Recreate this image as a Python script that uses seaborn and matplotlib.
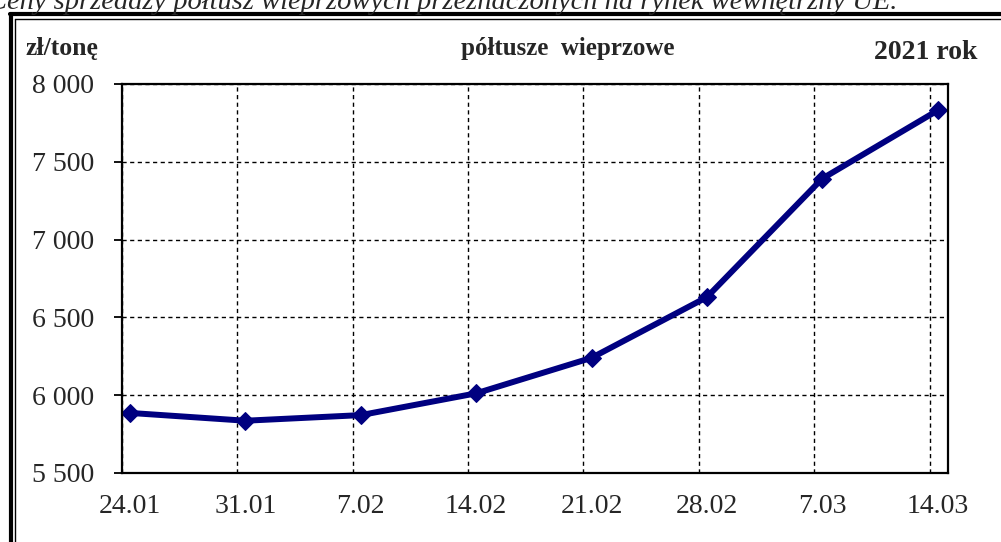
import matplotlib
matplotlib.use("Agg")
import matplotlib.pyplot as plt
import seaborn as sns
import pandas as pd
import numpy as np
from matplotlib.lines import Line2D
from matplotlib.ticker import FixedLocator, FuncFormatter

# ---- data ----
dates = ["24.01", "31.01", "7.02", "14.02", "21.02", "28.02", "7.03", "14.03"]
prices = [5886, 5836, 5872, 6012, 6240, 6630, 7392, 7830]
y_ticks = [5500, 6000, 6500, 7000, 7500, 8000]

title = "półtusze  wieprzowe"
unit_label = "zł/tonę"
year_label = "2021 rok"
caption = "Ceny sprzedaży półtusz wieprzowych przeznaczonych na rynek wewnętrzny UE."

sns.set_style("white")
plt.rcParams["font.family"] = ["Liberation Serif", "DejaVu Serif"]

W, H = 1001, 542
fig = plt.figure(figsize=(W / 100, H / 100), dpi=100)
ax = fig.add_axes([122 / W, 1 - 473 / H, (948 - 122) / W, (473 - 84) / H])

df = pd.DataFrame({"pos": np.arange(len(dates)), "price": prices})
sns.lineplot(data=df, x="pos", y="price", ax=ax, color="#000080", linewidth=4.3,
             marker="D", markersize=9, markeredgecolor="#000080", legend=False)

off = 0.07
ax.set_xlim(-off, len(dates) - 1 + 0.09)
ax.set_ylim(5500, 8000)

ax.xaxis.set_major_locator(FixedLocator(list(range(len(dates)))))
ax.set_xticklabels(dates)
ax.xaxis.set_minor_locator(FixedLocator([i - off for i in range(len(dates))]))
ax.tick_params(axis="x", which="major", length=0, pad=15, labelsize=20)
ax.tick_params(axis="x", which="minor", length=6, width=1.3, direction="out", color="black")

ax.yaxis.set_major_locator(FixedLocator(y_ticks))
ax.yaxis.set_major_formatter(FuncFormatter(lambda v, p: f"{int(v):,}".replace(",", " ")))
ax.tick_params(axis="y", which="major", length=6, width=1.3, direction="out", pad=14,
               labelsize=20, color="black", left=True)

ax.grid(False)
ax.grid(True, axis="y", which="major", color="black", linestyle=(0, (3, 2.5)), linewidth=1)
ax.grid(True, axis="x", which="minor", color="black", linestyle=(0, (3, 2.5)), linewidth=1)

for s in ax.spines.values():
    s.set_visible(True)
    s.set_color("black")
    s.set_linewidth(1.6)

ax.set_xlabel("")
ax.set_ylabel("")

# header texts
fig.text(25 / W, 1 - 55 / H, unit_label, fontsize=18.5, fontweight="bold", va="baseline", ha="left")
fig.text(568 / W, 1 - 55 / H, title, fontsize=18, fontweight="bold", va="baseline", ha="center")
fig.text(977 / W, 1 - 59 / H, year_label, fontsize=20, fontweight="bold", va="baseline", ha="right")
fig.text(897 / W, 1 - 9 / H, caption, fontsize=20.5, style="italic", va="baseline", ha="right")

# frame lines
fig.add_artist(Line2D([10 / W, 1.0], [1 - 14 / H, 1 - 14 / H], color="black", linewidth=3, transform=fig.transFigure))
fig.add_artist(Line2D([15 / W, 1.0], [1 - 18.5 / H, 1 - 18.5 / H], color="black", linewidth=1, transform=fig.transFigure))
fig.add_artist(Line2D([10.5 / W, 10.5 / W], [0, 1 - 14 / H], color="black", linewidth=3, transform=fig.transFigure))
fig.add_artist(Line2D([15 / W, 15 / W], [0, 1 - 18.5 / H], color="black", linewidth=1, transform=fig.transFigure))

fig.savefig("out.png", dpi=100)
